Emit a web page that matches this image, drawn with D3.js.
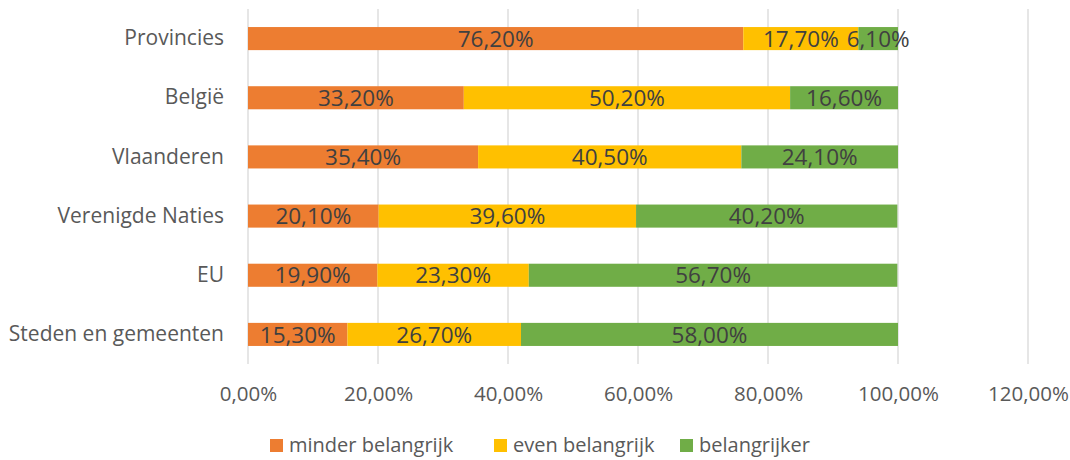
<!DOCTYPE html>
<html>
<head>
<meta charset="utf-8">
<script src="https://cdn.jsdelivr.net/npm/d3@7"></script>
<style>
  body { margin: 0; background: #fff; }
  text { font-family: "Open Sans", "Noto Sans", sans-serif; }
</style>
</head>
<body>
<div id="chart"></div>
<script>
// categories top to bottom
const categories = ['Provincies', 'België', 'Vlaanderen', 'Verenigde Naties', 'EU', 'Steden en gemeenten'];
const series = ['minder belangrijk', 'even belangrijk', 'belangrijker'];
const minder = [76.2, 33.2, 35.4, 20.1, 19.9, 15.3];
const even = [17.7, 50.2, 40.5, 39.6, 23.3, 26.7];
const belangrijker = [6.1, 16.6, 24.1, 40.2, 56.7, 58.0];
const ticks = [0, 20, 40, 60, 80, 100, 120];
const colors = ['#ED7D31', '#FFC000', '#70AD47'];

const width = 1070, height = 460;
const margin = { top: 9, right: 42, bottom: 96, left: 248 };

const svg = d3.select('#chart').append('svg')
    .attr('width', width)
    .attr('height', height);

const x = d3.scaleLinear()
    .domain([0, 120])
    .range([margin.left, width - margin.right]);

const y = d3.scaleBand()
    .domain(categories)
    .range([margin.top, height - margin.bottom])
    .paddingInner(0.61)
    .paddingOuter(0.305);

const fmt = v => v.toFixed(2).replace('.', ',') + '%';

// gridlines
svg.append('g')
    .selectAll('line')
    .data(ticks)
    .enter().append('line')
    .attr('x1', d => x(d))
    .attr('x2', d => x(d))
    .attr('y1', margin.top)
    .attr('y2', height - margin.bottom)
    .attr('stroke', '#d9d9d9')
    .attr('stroke-width', 1.3);

// stack
const rows = categories.map((c, i) => ({ cat: c, 0: minder[i], 1: even[i], 2: belangrijker[i] }));
const stack = d3.stack().keys([0, 1, 2])(rows);

const layers = svg.append('g')
    .selectAll('g')
    .data(stack)
    .enter().append('g')
    .attr('fill', (d, i) => colors[i]);

layers.selectAll('rect')
    .data(d => d)
    .enter().append('rect')
    .attr('x', d => x(d[0]))
    .attr('width', d => x(d[1]) - x(d[0]))
    .attr('y', d => y(d.data.cat))
    .attr('height', y.bandwidth());

layers.selectAll('text')
    .data(d => d)
    .enter().append('text')
    .attr('x', d => (x(d[0]) + x(d[1])) / 2)
    .attr('y', d => y(d.data.cat) + y.bandwidth() / 2)
    .attr('dy', '0.36em')
    .attr('text-anchor', 'middle')
    .attr('fill', '#404040')
    .style('font-size', '22.5px')
    .text(d => fmt(d[1] - d[0]));

// category labels
const yAxis = d3.axisLeft(y).tickSize(0).tickPadding(24);
svg.append('g')
    .attr('transform', `translate(${margin.left},0)`)
    .call(yAxis)
    .call(g => g.select('.domain').remove())
    .call(g => g.selectAll('text')
        .attr('fill', '#595959')
        .style('font-size', '21px'));

// x axis labels
const xAxis = d3.axisBottom(x).tickValues(ticks).tickSize(0).tickPadding(22)
    .tickFormat(d => fmt(d));
svg.append('g')
    .attr('transform', `translate(0,${height - margin.bottom})`)
    .call(xAxis)
    .call(g => g.select('.domain').remove())
    .call(g => g.selectAll('text')
        .attr('fill', '#595959')
        .style('font-size', '20.5px'));

// legend
const legendX = [270, 494, 680];
const legend = svg.append('g')
    .selectAll('g')
    .data(series)
    .enter().append('g')
    .attr('transform', (d, i) => `translate(${legendX[i]},439)`);
legend.append('rect')
    .attr('width', 13)
    .attr('height', 13)
    .attr('fill', (d, i) => colors[i]);
legend.append('text')
    .attr('x', 19)
    .attr('y', 6.5)
    .attr('dy', '0.34em')
    .attr('fill', '#595959')
    .style('font-size', '20px')
    .text(d => d);
</script>
</body>
</html>
